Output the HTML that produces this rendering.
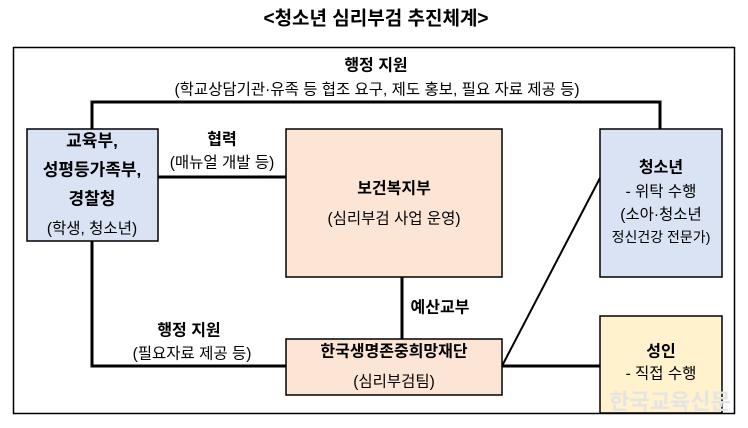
<!DOCTYPE html>
<html><head><meta charset="utf-8"><style>
html,body{margin:0;padding:0;background:#fff;}
svg{display:block;}
text{font-family:"Liberation Sans","Noto Sans CJK KR",sans-serif;font-size:15.5px;fill:#000;text-anchor:middle;dominant-baseline:central;}
.b{font-weight:bold;font-size:16px;}
</style></head><body>
<svg width="748" height="428" viewBox="0 0 748 428" xmlns="http://www.w3.org/2000/svg">
<text x="376" y="19" class="b" style="font-size:19px">&lt;청소년 심리부검 추진체계&gt;</text>
<rect x="13.5" y="47.5" width="721" height="366" fill="none" stroke="#000" stroke-width="1.5"/>
<g stroke="#000" stroke-width="3" fill="none">
<polyline points="92,129 92,102 660,102 660,129"/>
<line x1="158" y1="177" x2="286" y2="177"/>
<polyline points="92,241 92,366 286,366"/>
<line x1="402" y1="277" x2="402" y2="339"/>
<line x1="502" y1="366" x2="600" y2="366"/>
</g>
<line x1="502" y1="366" x2="600" y2="178" stroke="#000" stroke-width="2"/>
<rect x="27" y="129" width="131" height="112" fill="#dae3f3" stroke="#000" stroke-width="1.5"/>
<rect x="286" y="129" width="216" height="148" fill="#fde5d6" stroke="#000" stroke-width="1.5"/>
<rect x="600" y="129" width="122" height="148" fill="#dae3f3" stroke="#000" stroke-width="1.5"/>
<rect x="286" y="339" width="216" height="56" fill="#fde5d6" stroke="#000" stroke-width="1.5"/>
<rect x="600" y="316" width="122" height="97" fill="#fff2cc" stroke="#000" stroke-width="1.5"/>
<text x="376" y="66" class="b">행정 지원</text>
<text x="377" y="90">(학교상담기관·유족 등 협조 요구, 제도 홍보, 필요 자료 제공 등)</text>
<text x="222" y="140" class="b">협력</text>
<text x="222" y="163">(매뉴얼 개발 등)</text>
<text x="92" y="141" class="b" style="font-size:17px">교육부,</text>
<text x="92" y="170" class="b" style="font-size:17px">성평등가족부,</text>
<text x="92" y="199" class="b" style="font-size:17px">경찰청</text>
<text x="92" y="229">(학생, 청소년)</text>
<text x="394" y="189" class="b">보건복지부</text>
<text x="394" y="219">(심리부검 사업 운영)</text>
<text x="661" y="168" class="b">청소년</text>
<text x="661" y="192">- 위탁 수행</text>
<text x="661" y="215">(소아·청소년</text>
<text x="661" y="237" style="font-size:14px">정신건강 전문가)</text>
<text x="394" y="352" class="b">한국생명존중희망재단</text>
<text x="394" y="382">(심리부검팀)</text>
<text x="661" y="352" class="b">성인</text>
<text x="661" y="374">- 직접 수행</text>
<text x="189" y="331" class="b">행정 지원</text>
<text x="192" y="354">(필요자료 제공 등)</text>
<text x="440" y="308" class="b">예산교부</text>
<text x="670" y="402" class="b" style="font-size:22px;fill:#e4e4e4">한국교육신문</text>
</svg>
</body></html>
